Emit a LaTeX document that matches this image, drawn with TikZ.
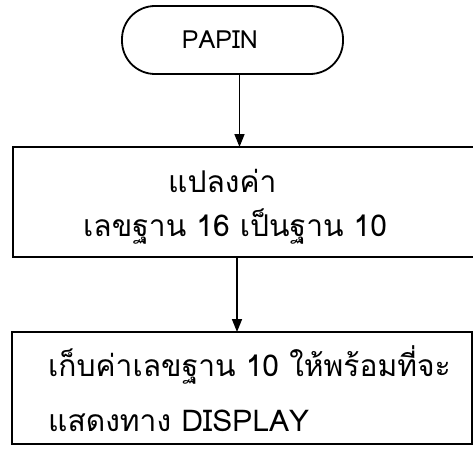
\documentclass[tikz,border=0pt]{standalone}
\usepackage{fontspec}
\newfontfamily\thaifont[Script=Thai]{Loma}
\usetikzlibrary{arrows.meta}
\tikzset{
  flowline/.style={line width=1.8pt},
  conn/.style={line width=1.6pt,-{Triangle[length=13pt,width=10pt]}},
  txt/.style={font=\thaifont\fontsize{30}{34}\selectfont,anchor=base west,inner sep=0pt},
  termtxt/.style={font=\thaifont\fontsize{25}{29}\selectfont,inner sep=0pt}
}
\begin{document}
\begin{tikzpicture}[x=1pt,y=-1pt]
\useasboundingbox (0,0) rectangle (473,452);
% terminator
\node[draw,flowline,rounded corners=33pt,minimum width=221pt,minimum height=68pt,inner sep=0pt] (start) at (232.5,40) {};
\node[termtxt] (t0) at (220,40) {PAPIN};
% box 1
\coordinate (b1nw) at (13,147);
\coordinate (b1se) at (478,257);
\draw[flowline] (b1nw) rectangle (b1se);
\node[txt] (t1) at (168,192) {แปลงค่า};
\node[txt] (t2) at (83,236) {เลขฐาน 16 เป็นฐาน 10};
% box 2
\coordinate (b2nw) at (12,332);
\coordinate (b2se) at (472,444);
\draw[flowline] (b2nw) rectangle (b2se);
\node[txt] (t3) at (48,376) {เก็บค่าเลขฐาน 10 ให้พร้อมที่จะ};
\node[txt] (t4) at (48,431) {แสดงทาง DISPLAY};
% connectors
\coordinate (a1s) at ([xshift=7pt]start.south);
\coordinate (a1e) at (a1s |- b1nw);
\draw[conn] (a1s) -- (a1e);
\coordinate (a2s) at (237,257);
\coordinate (a2e) at (237,332);
\draw[conn] (a2s) -- (a2e);
\end{tikzpicture}
\end{document}
